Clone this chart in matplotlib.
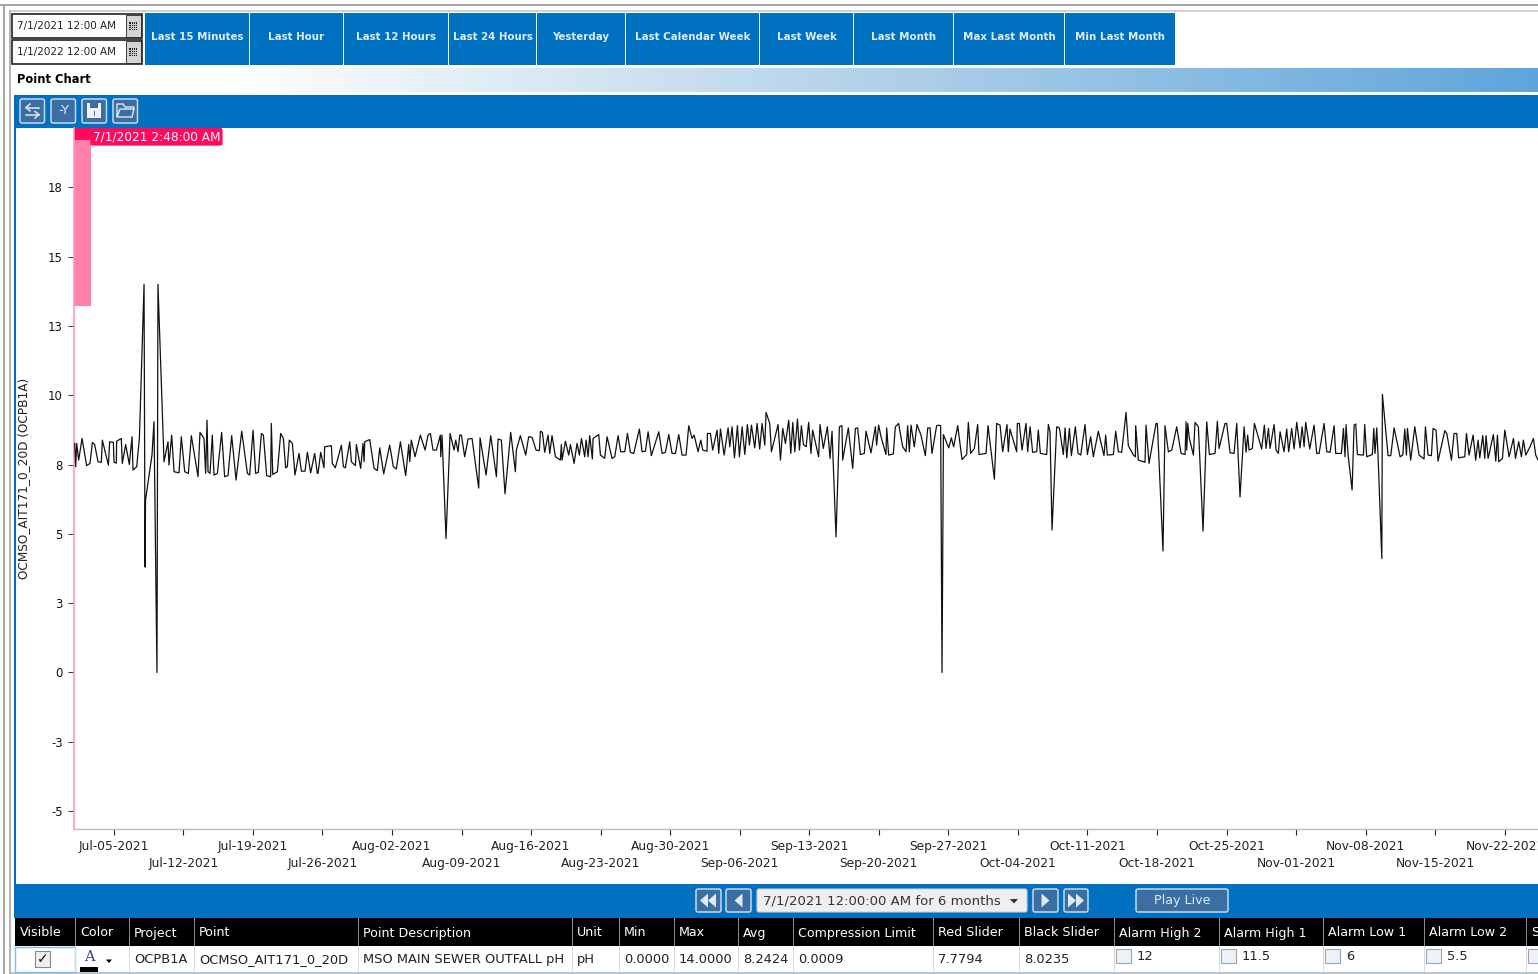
import datetime as dt
import numpy as np
import matplotlib
matplotlib.use('Agg')
import matplotlib.pyplot as plt
import matplotlib.dates as mdates
from matplotlib.patches import Rectangle, Polygon, FancyBboxPatch
from matplotlib.colors import LinearSegmentedColormap

# days after 7/1/2021 00:00 and pH
days_1 = [0.07,0.17,0.27,0.47,0.81,1.27,1.61,1.85,2.08,2.42,2.75,2.85,3.46,3.59,3.96,4.03,4.26,4.29,4.76,4.86,5.20,5.57,5.84,5.94,6.31,6.58,
          7.05,7.15,7.20,7.85,8.05,8.35,8.45,
          9.06,9.46,9.56,9.83,10.07,10.57,10.80,11.14,11.51,11.81,12.48,12.68,13.08,13.25,13.39,13.49,13.69,13.92,14.09,14.43,14.86,15.16,15.50,15.87,16.31,16.88,17.45,17.68,18.02,18.28,18.55,18.86,19.06,19.39,19.79,19.86,20.00,20.47,20.80,21.07,21.30,21.47,21.67,21.98,22.24,22.65,22.88,23.25,23.49,23.82,24.22,24.49]
ph_1 = [8.26,7.42,8.26,7.66,8.44,7.46,7.54,8.30,8.22,7.60,7.58,8.38,7.48,8.32,8.30,7.58,7.55,8.34,8.44,7.54,8.22,7.50,8.50,7.30,7.42,8.44,
        14.0,3.80,6.22,7.85,9.05,0.0,14.0,
        7.60,8.32,7.48,8.56,7.24,7.20,8.50,7.24,7.18,8.54,7.06,8.66,8.44,7.18,9.10,7.24,7.18,8.56,7.12,7.18,8.66,7.06,7.10,8.54,6.94,8.70,7.18,7.12,8.74,7.18,7.22,8.62,8.56,7.10,7.06,8.98,7.14,7.24,8.62,8.44,7.38,7.42,8.38,8.26,7.12,7.90,7.26,7.26,7.94,7.20,7.90,7.18]

days_2 = [24.56,24.83,25.16,25.23,25.90,26.00,26.30,26.91,27.11,27.31,27.75,27.92,28.32,28.42,28.85,29.09,29.19,29.26,29.76,30.20,30.53,30.77,31.17,31.77,32.14,32.44,32.85,33.38,33.69,33.79,33.95,34.32,34.86,35.33,35.63,35.87,36.13,36.47,36.87,36.91,37.04,37.44,37.85,38.25,38.42,38.65,38.82,38.99,39.32,39.66,40.06,40.73,40.87,41.47,41.94,42.51,42.68,43.01,43.38,43.95,44.42,44.52,44.92,45.46,45.76,46.10,46.50,46.84,46.94,47.14,47.37,47.71,47.88,48.11,48.45,48.95,49.05]
ph_2 = [7.18,7.94,7.38,8.14,8.18,7.54,7.38,8.20,7.42,7.38,8.32,7.60,7.46,8.22,7.36,8.26,7.60,8.32,8.40,7.36,7.28,8.10,7.16,8.20,7.42,7.34,8.32,7.10,8.22,7.60,8.38,7.78,8.56,8.02,8.56,8.62,8.02,8.02,8.56,7.78,8.56,4.83,8.62,8.02,8.38,7.96,8.56,8.56,7.78,8.42,8.44,6.65,8.46,7.12,8.54,7.06,8.42,8.38,6.44,8.66,7.24,8.02,8.54,7.84,8.50,8.48,8.02,8.00,8.70,8.66,7.94,8.56,7.90,8.54,7.78,7.66,8.22]

days_3 = [49.12,49.46,49.79,49.96,50.33,50.63,50.86,51.07,51.40,51.54,51.74,51.90,52.17,52.24,52.81,52.98,53.41,53.65,54.15,54.42,54.76,55.02,55.43,55.70,56.00,56.33,56.90,57.17,57.51,57.78,58.11,58.85,59.19,59.52,59.86,60.19,60.53,60.86,61.20,61.60,61.87,62.20,62.41,62.81,63.08,63.28,63.71,63.75,64.05,64.28,64.72,64.89,65.06,65.43,65.83,66.00,66.23,66.47,66.77,66.97,67.24,67.51,67.77,67.98,68.18,68.51,68.75,69.01,69.25,69.52,69.65,70.02,70.19,70.86,71.10,71.33,71.60,71.93,72.14,72.34,72.54,72.81,73.01,73.21,73.41,73.68]
ph_3 = [7.66,8.34,7.84,8.22,7.54,8.26,7.84,8.44,7.78,8.38,7.78,8.54,7.70,8.44,8.58,7.84,7.72,8.50,7.72,7.78,8.54,7.96,7.96,8.62,7.94,7.90,8.78,7.96,7.98,8.68,7.82,8.68,7.90,7.94,8.58,7.90,7.90,8.58,7.84,7.84,8.90,8.44,8.56,7.96,8.38,8.02,7.98,8.62,8.62,8.02,8.74,7.90,8.78,7.84,8.82,8.14,8.86,7.74,8.90,7.78,8.86,7.86,8.94,8.20,8.92,8.10,8.98,8.06,8.98,8.20,9.38,8.98,7.96,8.94,7.66,8.80,8.26,9.10,7.90,9.02,7.96,9.14,8.02,8.90,8.22,8.14]

days_4 = [73.94,74.17,74.34,74.94,75.08,75.41,75.82,76.09,76.29,76.69,77.03,77.29,77.36,77.93,78.37,78.64,78.87,79.14,79.54,79.71,80.21,80.65,80.78,80.98,81.22,81.72,81.79,81.99,82.46,82.66,82.99,83.40,83.74,83.90,84.07,84.24,84.57,84.84,85.24,85.68,85.92,86.15,86.35,86.82,87.02,87.22,87.36,87.50,88.03,88.30,88.53,88.94,89.37,89.84,90.01,90.24,90.61,90.95,91.08,91.79,91.99,92.63,92.86,93.20,93.46,93.90,94.03,94.20,94.87,94.94,95.14,95.41,95.81,95.98,96.22,96.48,96.89,97.05,97.26,97.89,98.06]
ph_4 = [9.02,7.90,8.74,7.78,8.94,8.08,8.86,7.72,8.70,4.89,8.86,8.90,7.66,8.82,7.36,8.80,8.82,7.86,7.90,8.70,7.92,8.86,8.20,8.92,8.50,7.86,8.82,7.84,7.88,8.86,8.98,8.14,7.96,8.90,7.96,8.92,8.14,8.94,8.56,7.82,8.82,8.82,7.90,8.90,8.92,8.90,0.0,8.58,8.10,8.46,8.14,8.90,7.68,7.86,9.02,7.90,8.08,8.94,7.86,7.90,8.90,6.97,8.98,8.92,7.96,8.94,7.96,8.78,7.96,8.98,8.98,8.02,8.98,7.96,8.86,7.94,7.96,8.74,7.90,7.86,8.94]

days_5 = [98.23,98.43,98.90,99.17,99.57,99.74,99.91,100.18,100.38,100.78,101.05,101.32,101.75,101.99,102.32,102.59,103.09,103.66,103.83,104.00,104.60,104.84,105.11,105.44,105.88,106.11,106.62,106.82,106.85,107.12,107.79,107.89,108.19,108.90,109.03,109.60,109.80,110.14,110.48,110.98,111.42,111.82,111.92,111.99,112.09,112.25,112.66,112.82,113.16,113.63,114.00,114.27,114.84,115.07,115.24,115.84,116.01,116.35,116.75,117.02,117.35,117.76,117.96,118.12,118.26,118.59,118.80,119.53,119.80,119.97,120.21,120.37,120.78,120.98,121.21,121.38,121.78,122.05,122.25,122.55]
ph_5 = [8.68,5.14,8.86,8.82,7.86,8.82,7.74,8.80,7.82,8.86,7.90,7.84,8.94,7.86,8.50,7.78,8.70,7.82,8.56,7.84,7.86,8.70,7.96,7.94,9.38,8.18,7.84,7.78,8.90,7.66,7.58,8.92,7.54,8.98,8.98,4.38,8.90,7.96,8.02,8.86,7.90,7.86,9.04,8.02,8.98,8.44,7.84,9.02,8.86,5.10,9.04,7.86,7.90,9.06,8.08,8.98,8.98,7.92,7.90,8.98,6.33,8.86,7.94,8.56,8.02,8.08,8.98,8.06,8.92,8.08,8.80,8.08,8.94,8.02,7.90,8.68,7.96,8.78,7.96,8.80]

days_6 = [122.79,123.06,123.39,123.60,123.80,123.96,124.37,124.80,125.07,125.31,125.81,126.08,126.41,126.82,126.98,127.55,127.76,127.92,128.02,128.23,128.63,128.83,129.00,129.16,129.77,129.90,130.10,130.67,130.81,130.94,131.11,131.24,131.62,131.68,132.25,132.52,132.86,133.46,133.73,133.93,134.10,134.20,134.53,134.94,135.37,135.87,136.01,136.28,136.61,136.78,137.08,137.28,137.96,138.16,138.63,138.89,139.16,139.36,139.97,140.14,140.40,140.81,141.07,141.31,141.48,141.78,141.98,142.11,142.32,142.85,143.09,143.26,143.39,143.76,144.00,144.43,144.87,145.07,145.40,145.67,145.87,146.11,146.54,146.88,147.11,147.35]
ph_6 = [8.06,9.02,8.10,8.86,8.14,9.02,8.06,8.92,7.90,7.90,8.98,7.96,7.94,8.90,7.90,7.90,8.80,7.78,8.94,7.84,6.58,8.92,8.96,7.86,7.84,8.94,7.78,7.86,8.80,7.90,8.82,7.84,4.11,10.03,7.82,7.82,8.82,7.78,7.84,8.78,7.84,8.80,7.66,8.86,7.84,7.70,8.86,7.84,7.82,8.80,8.74,7.62,8.72,8.62,7.66,8.62,8.62,7.74,7.78,8.62,7.84,8.56,7.66,8.38,7.74,8.54,7.72,8.54,7.72,8.58,7.62,8.56,7.60,7.72,8.74,7.78,8.44,7.72,8.32,7.78,8.38,7.84,8.14,8.44,7.84,7.66]

y_ticks = [-5, -2.5, 0, 2.5, 5, 7.5, 10, 12.5, 15, 17.5]
y_labels = ['-5', '-3', '0', '3', '5', '8', '10', '13', '15', '18']
top_dates = ['2021-07-05','2021-07-19','2021-08-02','2021-08-16','2021-08-30','2021-09-13','2021-09-27','2021-10-11','2021-10-25','2021-11-08','2021-11-22']
low_dates = ['2021-07-12','2021-07-26','2021-08-09','2021-08-23','2021-09-06','2021-09-20','2021-10-04','2021-10-18','2021-11-01','2021-11-15']

quick_buttons = ['Last 15 Minutes','Last Hour','Last 12 Hours','Last 24 Hours','Yesterday','Last Calendar Week','Last Week','Last Month','Max Last Month','Min Last Month']
button_edges = [145,250,344,449,537,626,760,854,954,1065,1176]
table_heads = ['Visible','Color','Project','Point','Point Description','Unit','Min','Max','Avg','Compression Limit','Red Slider','Black Slider','Alarm High 2','Alarm High 1','Alarm Low 1','Alarm Low 2','S']
table_row = ['','','OCPB1A','OCMSO_AIT171_0_20D','MSO MAIN SEWER OUTFALL pH','pH','0.0000','14.0000','8.2424','0.0009','7.7794','8.0235','12','11.5','6','5.5','']
col_edges = [15,75,129,194,358,572,619,674,738,793,933,1019,1114,1219,1323,1424,1526,1545]

BLUE = '#0070c0'
BTN = '#3b6fa3'
RED = '#ff0a5c'
PINK = '#ff80a8'

fig = plt.figure(figsize=(15.38, 9.74), dpi=100, facecolor='white')
W, H = 1538., 974.

# screen furniture, in pixels
ui = fig.add_axes([0, 0, 1, 1], zorder=0)
ui.set_axis_off()


def box(x0, y0, x1, y1, fc, ec='none', lw=0., z=1):
    ui.add_patch(Rectangle((x0, y0), x1 - x0, y1 - y0, fc=fc, ec=ec, lw=lw, zorder=z))


def label(x, y, s, color='black', size=8.5, ha='left', weight='normal', z=5, **kw):
    ui.text(x, y, s, color=color, fontsize=size, ha=ha, va='center', fontweight=weight, zorder=z, **kw)


def icon_btn(x0, y0, x1, y1):
    ui.add_patch(FancyBboxPatch((x0 + 2, y0 + 2), x1 - x0 - 4, y1 - y0 - 4, boxstyle='round,pad=2',
                                fc=BTN, ec='#c5d9ea', lw=1.1, zorder=3))


# outer frame
box(0, 4, W, 6, '#a8a8a8')
box(3, 4, 5, H, '#a8a8a8')
box(9, 10, 11, H, '#b4b4b4')
box(11, 10, W, 12, '#d0d0d0')

# date pickers
for y0, s in [(14, '7/1/2021 12:00 AM'), (40, '1/1/2022 12:00 AM')]:
    box(12, y0, 142, y0 + 24, 'white', ec='#222222', lw=1.2)
    box(126, y0 + 1, 141, y0 + 23, '#d4d4d4', ec='#222222', lw=0.6)
    label(17, y0 + 12, s, size=7.45, color='#222222')
    box(129, y0 + 8, 137, y0 + 16, '#222222', z=3)
    for k in (2, 4, 6):
        box(129 + k, y0 + 8, 130 + k, y0 + 16, '#c8c8c8', z=4)
        box(129, y0 + 8 + k, 137, y0 + 9 + k, '#c8c8c8', z=4)

# quick range buttons
for i, s in enumerate(quick_buttons):
    box(button_edges[i], 13, button_edges[i + 1] - 1.5, 65, BLUE)
    label((button_edges[i] + button_edges[i + 1]) / 2 - 0.5, 36.5, s, color='#dfecf7', size=7.4, ha='center', weight='bold')

# header gradient
cmap = LinearSegmentedColormap.from_list('bar', [(0, '#ffffff'), (0.14, '#ffffff'), (0.55, '#b5d3ea'), (1, '#5fa5db')])
ui.imshow(np.linspace(0, 1, 512).reshape(1, -1), extent=(11, W, 92, 68), cmap=cmap, aspect='auto', zorder=1)
label(17, 79.5, 'Point Chart', size=8.3, weight='bold')

# toolbar and bottom bar
box(14, 95, W, 128, BLUE)
box(14, 128, 16, 884, BLUE)
box(14, 884, W, 918, BLUE)
for x0 in (20, 51, 82, 113):
    icon_btn(x0, 99, x0 + 24.5, 123)
ui.plot([26, 39], [107.5, 107.5], color='#dfe9f2', lw=1.1, zorder=6)
ui.plot([30, 26, 30], [104, 107.5, 111], color='#dfe9f2', lw=1.1, zorder=6)
ui.plot([26, 39], [114.5, 114.5], color='#dfe9f2', lw=1.1, zorder=6)
ui.plot([35, 39, 35], [111.5, 114.5, 118], color='#dfe9f2', lw=1.1, zorder=6)
label(63.5, 110.5, '-Y', color='#dfe9f2', size=9.5, ha='center', z=6)
box(87, 103, 101, 118, '#f2f2f2', z=5)
box(90, 103, 98, 108, BTN, z=6)
box(93.5, 111, 95, 116, BTN, z=6)
ui.add_patch(Polygon([(117, 117), (117, 104), (123, 104), (125, 107), (134, 107), (134, 109), (120, 109), (117, 117), (132, 117), (134, 109)],
                     closed=False, fc='none', ec='#dfe9f2', lw=1, zorder=6))

# player controls
for x0, x1 in [(696, 721), (726, 751), (1033, 1058), (1064, 1088)]:
    icon_btn(x0, 889, x1, 912)
for cx, d, n in [(708, -1, 2), (738.5, -1, 1), (1045.5, 1, 1), (1076, 1, 2)]:
    for k in range(n):
        off = (k - (n - 1) / 2) * 8
        ui.add_patch(Polygon([(cx + off - d * 4, 893.5), (cx + off - d * 4, 907.5), (cx + off + d * 4, 900.5)],
                             fc='#dfe9f2', zorder=6))
ui.add_patch(FancyBboxPatch((759, 891), 266, 19, boxstyle='round,pad=2', fc='#efefef', ec='#cfcfcf', lw=0.8, zorder=3))
label(763, 901, '7/1/2021 12:00:00 AM for 6 months', size=9.5, color='#333333')
ui.add_patch(Polygon([(1010, 899), (1018, 899), (1014, 903.5)], fc='#333333', zorder=6))
icon_btn(1136, 889, 1228, 912)
label(1182, 900.5, 'Play Live', color='#dfe9f2', size=9.1, ha='center', z=6)

# point table
box(15, 918, W, 946, 'black')
box(15, 946, W, 972, 'white')
box(11, 972, W, H, '#b9c4cc')
for i, s in enumerate(table_heads):
    x0, x1 = col_edges[i], col_edges[i + 1]
    label(x0 + 5, 933, s, color='white', size=9.1)
    if i > 0:
        box(x0 - 0.5, 918, x0 + 0.5, 946, '#8a8a8a', z=3)
        box(x0 - 0.5, 946, x0 + 0.5, 972, '#d8d8d8', z=3)
    if table_row[i]:
        alarm = table_heads[i].startswith('Alarm')
        label(x0 + (23 if alarm else 5), 956 if alarm else 959.5, table_row[i], size=9.4, color='#222222')
    if table_heads[i].startswith('Alarm') or table_heads[i] == 'S':
        box(x0 + 2, 949, x0 + 17, 963, '#eef2f6', ec='#9aa6b0', lw=0.8, z=4)
box(15, 947, 75, 972, 'white', ec='#7fc0d8', lw=1)
box(35, 951, 50, 967, '#efefef', ec='#888888', lw=0.8, z=4)
label(42.5, 959, '\u2713', ha='center', size=10, weight='bold', z=6)
ui.text(89, 957, 'A', color='#33418c', fontsize=10.5, family='DejaVu Serif', ha='center', va='center', zorder=5)
box(80, 967, 98, 972, 'black', z=5)
ui.add_patch(Polygon([(106, 959.5), (112, 959.5), (109, 963)], fc='black', zorder=6))

ui.set_xlim(0, W)
ui.set_ylim(H, 0)

# the chart itself
left, right, top, bottom = 74., 1538., 128., 829.
ax = fig.add_axes([left / W, 1 - bottom / H, (right - left) / W, (bottom - top) / H], zorder=2)
ax.patch.set_alpha(0)

start = dt.datetime(2021, 7, 1)
days = np.array(days_1 + days_2 + days_3 + days_4 + days_5 + days_6)
ph = np.array(ph_1 + ph_2 + ph_3 + ph_4 + ph_5 + ph_6)
t = mdates.date2num(start) + days

ax.plot(t, ph, color='#111111', lw=0.9, solid_joinstyle='round', zorder=3)

t0 = mdates.date2num(start)
ax.set_xlim(t0, t0 + 147.34)
ax.set_ylim(-5.644, 19.635)

# red slider
ax.add_patch(Rectangle((t0, 13.2), 1.71, 6.44, fc=PINK, ec='none', zorder=2))
ax.add_patch(Rectangle((t0, 19.2), 1.71, 0.44, fc=RED, ec='none', zorder=2))
ax.text(t0 + 1.88, 19.32, '7/1/2021 2:48:00 AM', color='white', fontsize=8.7, va='center', ha='left', zorder=6,
        bbox=dict(boxstyle='round,pad=0.2', fc=RED, ec='none'))

for s in ['top', 'right']:
    ax.spines[s].set_visible(False)
ax.spines['left'].set_color('#ff9ab8')
ax.spines['left'].set_linewidth(1.2)
ax.spines['bottom'].set_color('#bbbbbb')
ax.spines['bottom'].set_linewidth(1.0)

ax.set_yticks(y_ticks)
ax.set_yticklabels(y_labels, fontsize=8.4, color='#111111')
ax.tick_params(axis='y', length=4, width=0.7, pad=4, color='#333333')

ax.set_xticks(mdates.datestr2num(top_dates))
ax.set_xticklabels([dt.datetime.strptime(d, '%Y-%m-%d').strftime('%b-%d-%Y') for d in top_dates], fontsize=8.8, color='#222222')
ax.set_xticks(mdates.datestr2num(low_dates), minor=True)
ax.set_xticklabels([dt.datetime.strptime(d, '%Y-%m-%d').strftime('%b-%d-%Y') for d in low_dates], minor=True, fontsize=8.8, color='#222222')
ax.tick_params(axis='x', which='major', length=4.5, width=0.8, pad=3.2, color='#222222')
ax.tick_params(axis='x', which='minor', length=4.5, width=0.8, pad=16, color='#222222')

fig.text(24 / W, 1 - 478.5 / H, 'OCMSO_AIT171_0_20D (OCPB1A)', rotation=90, ha='center', va='center', fontsize=8.7, color='#222222')

fig.savefig('out.png', dpi=100)
